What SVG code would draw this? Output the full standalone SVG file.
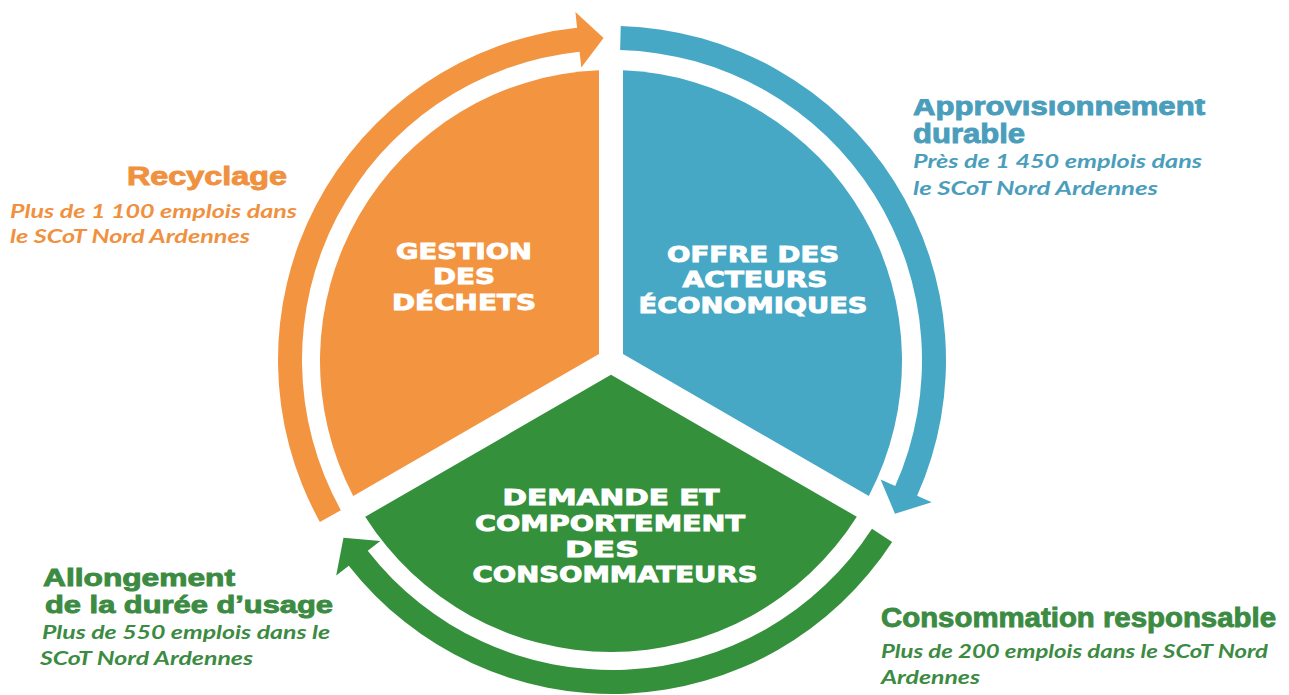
<svg xmlns="http://www.w3.org/2000/svg" width="1289" height="695" viewBox="0 0 1289 695">
<defs>
<style>
.head{font-family:"Liberation Sans",Arial,sans-serif;font-weight:bold;stroke-width:0.9px;}
.sub{font-family:Lato,"Open Sans","Liberation Sans",sans-serif;font-weight:bold;font-style:italic;font-size:19px;}
.lbl{font-family:"DejaVu Sans","Liberation Sans",sans-serif;font-weight:bold;font-size:21px;fill:#ffffff;stroke:#ffffff;stroke-width:0.9px;text-anchor:middle;}
.or{fill:#F39441;}
.bl{fill:#47A8C6;}
.gr{fill:#34903B;}
.tor{fill:#F0913F;}
.tbl{fill:#4A9EBC;}
.tgr{fill:#3C8B42;}
.head.tor{stroke:#F0913F;}
.head.tbl{stroke:#4A9EBC;}
.head.tgr{stroke:#3C8B42;}
</style>
<clipPath id="clipTop"><rect x="0" y="99" width="1289" height="600"/></clipPath>
</defs>
<rect x="0" y="0" width="1289" height="695" fill="#ffffff"/>

<g id="connectors">
<path id="arrow-orange" class="or" d="M319.88,521.93 A334,334 0 0 1 577.09,27.83 L575.41,11.92 L603.57,38.11 L581.27,67.61 L579.60,51.70 A310,310 0 0 0 340.87,510.29 Z"/>
<path id="arrow-blue" class="bl" d="M620.74,26.11 A334,334 0 0 1 917.12,495.85 L931.74,502.36 L894.98,513.65 L880.58,479.58 L895.20,486.09 A310,310 0 0 0 620.12,50.11 Z"/>
<path id="arrow-green" class="gr" d="M892.12,541.91 A334,334 0 0 1 348.80,565.63 L336.20,575.48 L343.49,537.72 L380.33,541.00 L367.72,550.85 A310,310 0 0 0 871.99,528.84 Z"/>
</g>

<g id="node-gestion">
<path class="or" d="M599,354.07 L353.2,496 A291,291 0 0 1 599,70.25 Z"/>
<text class="lbl" x="464" y="259" textLength="136" lengthAdjust="spacingAndGlyphs">GESTION</text>
<text class="lbl" x="464" y="284" textLength="62" lengthAdjust="spacingAndGlyphs">DES</text>
<text class="lbl" x="464" y="310" textLength="144" lengthAdjust="spacingAndGlyphs">DÉCHETS</text>
</g>

<g id="node-offre">
<path class="bl" d="M623,354.07 L623,70.25 A291,291 0 0 1 868.8,496 Z"/>
<text class="lbl" x="753" y="262" textLength="172" lengthAdjust="spacingAndGlyphs">OFFRE DES</text>
<text class="lbl" x="755" y="287" textLength="145" lengthAdjust="spacingAndGlyphs">ACTEURS</text>
<text class="lbl" x="753" y="313" textLength="229" lengthAdjust="spacingAndGlyphs">ÉCONOMIQUES</text>
</g>

<g id="node-demande">
<path class="gr" d="M611,374.86 L856.8,516.77 A291,291 0 0 1 365.2,516.77 Z"/>
<text class="lbl" x="611" y="505" textLength="217" lengthAdjust="spacingAndGlyphs">DEMANDE ET</text>
<text class="lbl" x="610" y="531" textLength="270" lengthAdjust="spacingAndGlyphs">COMPORTEMENT</text>
<text class="lbl" x="602" y="557" textLength="74" lengthAdjust="spacingAndGlyphs">DES</text>
<text class="lbl" x="615" y="582" textLength="285" lengthAdjust="spacingAndGlyphs">CONSOMMATEURS</text>
</g>

<g id="label-recyclage">
<text class="head tor" x="127" y="185" font-size="25" textLength="160" lengthAdjust="spacingAndGlyphs">Recyclage</text>
<text class="sub tor" x="10" y="218" textLength="287" lengthAdjust="spacingAndGlyphs">Plus de 1 100 emplois dans</text>
<text class="sub tor" x="10" y="243" textLength="240" lengthAdjust="spacingAndGlyphs">le SCoT Nord Ardennes</text>
</g>

<g id="label-approvisionnement">
<text class="head tbl" x="913" y="115" font-size="26" textLength="292" lengthAdjust="spacingAndGlyphs" clip-path="url(#clipTop)">Approvisionnement</text>
<text class="head tbl" x="913" y="143" font-size="27" textLength="112" lengthAdjust="spacingAndGlyphs">durable</text>
<text class="sub tbl" x="913" y="168" textLength="289" lengthAdjust="spacingAndGlyphs">Près de 1 450 emplois dans</text>
<text class="sub tbl" x="913" y="195" textLength="245" lengthAdjust="spacingAndGlyphs">le SCoT Nord Ardennes</text>
</g>

<g id="label-allongement">
<text class="head tgr" x="43" y="586" font-size="24" textLength="192" lengthAdjust="spacingAndGlyphs">Allongement</text>
<text class="head tgr" x="45" y="613" font-size="24" textLength="288" lengthAdjust="spacingAndGlyphs">de la durée d’usage</text>
<text class="sub tgr" x="42" y="639" textLength="288" lengthAdjust="spacingAndGlyphs">Plus de 550 emplois dans le</text>
<text class="sub tgr" x="40" y="665" textLength="213" lengthAdjust="spacingAndGlyphs">SCoT Nord Ardennes</text>
</g>

<g id="label-consommation">
<text class="head tgr" x="881" y="627" font-size="27" textLength="395" lengthAdjust="spacingAndGlyphs">Consommation responsable</text>
<text class="sub tgr" x="881" y="658" textLength="387" lengthAdjust="spacingAndGlyphs">Plus de 200 emplois dans le SCoT Nord</text>
<text class="sub tgr" x="881" y="684" textLength="99" lengthAdjust="spacingAndGlyphs">Ardennes</text>
</g>
</svg>
